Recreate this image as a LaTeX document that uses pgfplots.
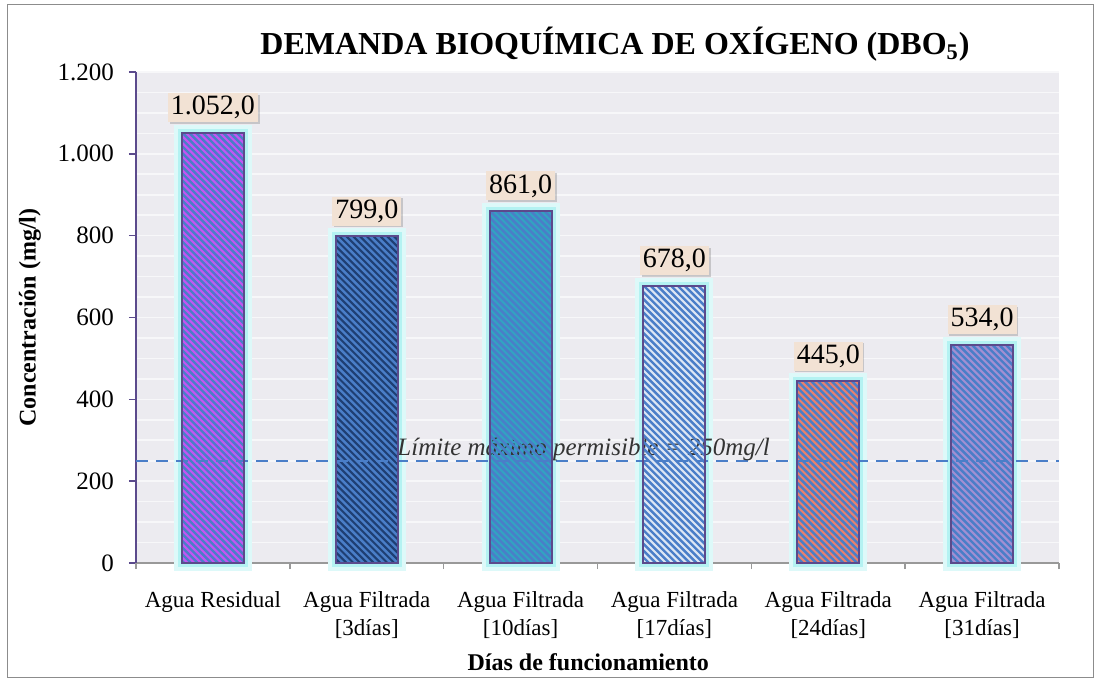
\documentclass[border=0pt]{standalone}
\usepackage{fontspec}
\setmainfont{Liberation Serif}
\usepackage{pgfplots}
\pgfplotsset{compat=1.18}
\usetikzlibrary{shadows}

\definecolor{bgplot}{HTML}{ECEBF0}
\definecolor{barline}{HTML}{5B4A8C}
\definecolor{stripe}{HTML}{4A7EC8}
\definecolor{glow}{HTML}{B4F2F2}
\definecolor{lblbox}{HTML}{F2E2D4}
\definecolor{cA}{HTML}{C454F2}
\definecolor{cB}{HTML}{1F3F73}
\definecolor{cC}{HTML}{32A2C2}
\definecolor{cD}{HTML}{DCE6F4}
\definecolor{cE}{HTML}{E8806C}
\definecolor{cF}{HTML}{A28FD2}

\pgfkeys{/pgf/number format/assume math mode=true}

\pgfplotsset{
  % bar body: glow, base colour, value label
  mybar/.style={
    ybar, bar width=31pt, bar shift=0pt,
    preaction={draw=glow!45!white, line width=8pt},
    preaction={draw=glow, line width=4pt},
    fill=#1, draw=none,
    nodes near coords={\pgfmathprintnumber[fixed,fixed zerofill,precision=1,use comma,1000 sep={.}]{\pgfplotspointmeta}},
    every node near coord/.append style={font=\fontsize{14}{16}\selectfont, fill=lblbox, inner sep=1.5pt, yshift=5pt,
      drop shadow={opacity=0.35, shadow xshift=0.8pt, shadow yshift=-0.8pt}},
  },
  % blue diagonal stripes and edge, drawn down from the bar top (height from point meta)
  mystripes/.style={
    forget plot, only marks, scatter,
    point meta=y, point meta min=0, point meta max=1200,
    mark=*, mark size=0pt, mark options={draw=none, fill=none},
    scatter/@pre marker code/.code={
      \pgfmathsetmacro\h{\pgfplotspointmetatransformed*0.2455}
      \begin{scope}
        \clip (-15.5pt,0pt) rectangle (15.5pt,-\h pt);
        \foreach \k in {0,...,85} {
          \draw[stripe, line width=1.2pt] (\k*3.4pt-250pt,0pt) -- ++(260pt,-260pt);
        }
      \end{scope}
      \draw[barline, line width=1pt] (-15.5pt,0pt) rectangle (15.5pt,-\h pt);
    },
    scatter/@post marker code/.code={},
  },
}

\begin{document}
\begin{tikzpicture}
\begin{axis}[
  scale only axis,
  width=461.5pt, height=245.5pt,
  xmin=-0.5, xmax=5.5,
  ymin=0, ymax=1200,
  ytick={0,200,...,1200},
  minor y tick num=3,
  ymajorgrids, yminorgrids,
  major grid style={draw=white!60!bgplot, line width=0.8pt},
  minor grid style={draw=white!60!bgplot, line width=0.8pt},
  axis background/.style={fill=bgplot},
  axis x line*=bottom, axis y line*=left,
  x axis line style={draw=gray!80, line width=0.8pt, -},
  y axis line style={draw=barline, line width=0.8pt, -},
  tick align=outside,
  ytick style={draw=barline, line width=0.8pt},
  major tick length=3.5pt,
  minor tick length=0pt,
  xtick={0,1,2,3,4,5},
  xtick style={draw=none},
  xticklabels={{Agua Residual},{Agua Filtrada\\{}[3días]},{Agua Filtrada\\{}[10días]},{Agua Filtrada\\{}[17días]},{Agua Filtrada\\{}[24días]},{Agua Filtrada\\{}[31días]}},
  xticklabel style={align=center, font=\fontsize{11.5}{14}\selectfont, yshift=-7pt},
  extra x ticks={-0.5,0.5,...,5.5},
  extra x tick labels={},
  extra x tick style={xtick style={draw=gray!80, line width=0.8pt}, major tick length=3pt, grid=none},
  yticklabel style={font=\fontsize{12.5}{14}\selectfont, xshift=-4pt, /pgf/number format/.cd, 1000 sep={.}, use comma},
  scaled y ticks=false,
  title={\textbf{DEMANDA BIOQUÍMICA DE OXÍGENO (DBO\textsubscript{5})}},
  title style={font=\fontsize{16}{18}\selectfont, at={(axis description cs:0.519,1)}, anchor=base, yshift=3pt},
  xlabel={\textbf{Días de funcionamiento}},
  xlabel style={font=\fontsize{12}{14}\selectfont, at={(axis description cs:0.49,0)}, anchor=center, yshift=-49.5pt},
  ylabel={\textbf{Concentración (mg/l)}},
  ylabel style={font=\fontsize{12}{14}\selectfont, at={([xshift=-53pt]axis description cs:0,0.5)}, anchor=center},
  clip=false,
]
\addplot[mybar=cA] coordinates {(0,1052)};
\addplot[mystripes] coordinates {(0,1052)};
\addplot[mybar=cB] coordinates {(1,799)};
\addplot[mystripes] coordinates {(1,799)};
\addplot[mybar=cC] coordinates {(2,861)};
\addplot[mystripes] coordinates {(2,861)};
\addplot[mybar=cD] coordinates {(3,678)};
\addplot[mystripes] coordinates {(3,678)};
\addplot[mybar=cE] coordinates {(4,445)};
\addplot[mystripes] coordinates {(4,445)};
\addplot[mybar=cF] coordinates {(5,534)};
\addplot[mystripes] coordinates {(5,534)};
\addplot[draw=stripe, line width=1pt, dash pattern=on 6pt off 4pt, mark=none]
  coordinates {(-0.5,250) (5.5,250)};
\node[font=\fontsize{12.5}{14}\itshape, text=black!80, anchor=base] at (axis cs:2.41,250) [yshift=2.5pt] {Límite máximo permisible = 250mg/l};
\end{axis}
\draw[gray!90, line width=0.5pt] (-64pt,-57pt) rectangle (478.5pt,279pt);
\useasboundingbox (-68pt,-59pt) rectangle (482.5pt,281.5pt);
\end{tikzpicture}
\end{document}
